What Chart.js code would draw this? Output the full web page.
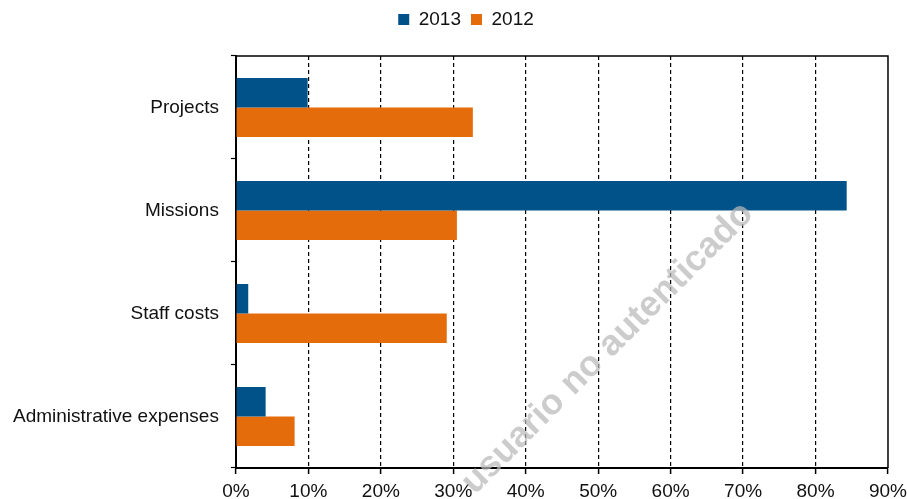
<!DOCTYPE html>
<html>
<head>
<meta charset="utf-8">
<script src="https://cdn.jsdelivr.net/npm/chart.js@4/dist/chart.umd.min.js"></script>
<style>
  html, body { margin: 0; padding: 0; background: #fff; }
  #wrap { width: 907px; height: 499px; position: relative; }
</style>
</head>
<body>
<div id="wrap"><canvas id="c" width="907" height="499"></canvas></div>
<script>
const categories = ["Projects", "Missions", "Staff costs", "Administrative expenses"];
const values2013 = [9.9, 84.3, 1.7, 4.1];
const values2012 = [32.7, 30.5, 29.1, 8.1];
const xTicks = [0, 10, 20, 30, 40, 50, 60, 70, 80, 90];
const watermarkText = "usuario no autenticado";

const FONT = "'Liberation Sans', Arial, sans-serif";
const TEXT = '#111';

const frameAndWatermark = {
  id: 'frameAndWatermark',
  beforeInit(chart) {
    const leg = chart.legend;
    if (leg && !leg._patched) {
      const origFit = leg.fit;
      leg.fit = function () { origFit.call(this); this.height += 17; };
      leg._patched = true;
    }
  },
  afterLayout(chart) {
    const leg = chart.legend;
    if (leg) { leg.left += 12; leg.right += 12; }
  },
  afterDatasetsDraw(chart) {
    const ctx = chart.ctx;
    const a = chart.chartArea;
    ctx.save();
    ctx.strokeStyle = '#000';
    ctx.lineWidth = 1.5;
    ctx.beginPath();
    ctx.moveTo(a.left, a.top);
    ctx.lineTo(a.right, a.top);
    ctx.lineTo(a.right, a.bottom);
    ctx.stroke();
    ctx.restore();
  },
  afterDraw(chart) {
    const ctx = chart.ctx;
    ctx.save();
    ctx.translate(chart.width * 0.670, chart.height * 0.698);
    ctx.rotate(-Math.PI / 4);
    ctx.font = "bold 36px " + FONT;
    ctx.fillStyle = 'rgba(185,185,185,0.72)';
    ctx.textAlign = 'center';
    ctx.textBaseline = 'middle';
    ctx.fillText(watermarkText, 0, 0);
    ctx.restore();
  }
};

new Chart(document.getElementById('c'), {
  type: 'bar',
  data: {
    labels: categories,
    datasets: [
      { label: '2013', data: values2013, backgroundColor: '#005288', borderWidth: 0,
        categoryPercentage: 0.573, barPercentage: 1.0 },
      { label: '2012', data: values2012, backgroundColor: '#E46C0A', borderWidth: 0,
        categoryPercentage: 0.573, barPercentage: 1.0 }
    ]
  },
  options: {
    indexAxis: 'y',
    responsive: false,
    animation: false,
    devicePixelRatio: 1,
    layout: { padding: { left: 1, right: 0, top: 0, bottom: -11 } },
    plugins: {
      legend: {
        position: 'top',
        labels: {
          boxWidth: 11, boxHeight: 11, padding: 10,
          color: TEXT,
          font: { family: FONT, size: 19 }
        }
      },
      tooltip: { enabled: false }
    },
    scales: {
      x: {
        min: 0, max: 90,
        afterBuildTicks(scale) { scale.ticks = xTicks.map(v => ({ value: v })); },
        ticks: {
          callback: v => v + '%',
          color: TEXT,
          font: { family: FONT, size: 19, lineHeight: 1.895 },
          padding: 0,
          maxRotation: 0
        },
        grid: {
          color: ctx => (ctx.tick && (ctx.tick.value === 0 || ctx.tick.value === 90)) ? 'rgba(0,0,0,0)' : '#000',
          lineWidth: 1.2,
          tickColor: '#000',
          tickLength: 6,
          tickWidth: 1.5,
          tickBorderDash: []
        },
        border: { display: true, color: '#000', width: 2, dash: [4, 3] }
      },
      y: {
        ticks: {
          color: TEXT,
          font: { family: FONT, size: 19 },
          padding: 12
        },
        grid: {
          offset: true,
          drawOnChartArea: false,
          drawTicks: true,
          tickLength: 5,
          tickColor: '#000',
          tickWidth: 1.2
        },
        border: { display: true, color: '#000', width: 2 }
      }
    }
  },
  plugins: [frameAndWatermark]
});
</script>
</body>
</html>
